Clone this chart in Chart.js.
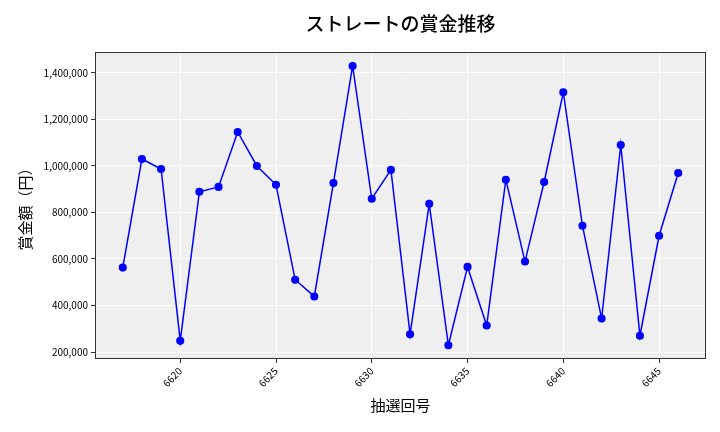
<!DOCTYPE html>
<html>
<head>
    <meta charset="UTF-8">
    <title>ストレートの賞金推移</title>
    <script src="https://cdn.jsdelivr.net/npm/chart.js"></script>
    <style>
        body { margin: 0; background: #fff; }
        #wrap { width: 720px; height: 432px; }
    </style>
</head>
<body>
    <div id="wrap"><canvas id="myChart" width="720" height="432"></canvas></div>

    <script>
        // 抽選回号
        const rounds = [6617, 6618, 6619, 6620, 6621, 6622, 6623, 6624, 6625, 6626,
                        6627, 6628, 6629, 6630, 6631, 6632, 6633, 6634, 6635, 6636,
                        6637, 6638, 6639, 6640, 6641, 6642, 6643, 6644, 6645, 6646];
        // 賞金額（円）
        const prizes = [563000, 1030000, 987000, 248000, 889000, 910000, 1146000, 1000000, 919000, 511000,
                        439000, 927000, 1430000, 859000, 983000, 276000, 837000, 229000, 566000, 314000,
                        941000, 589000, 931000, 1317000, 743000, 344000, 1090000, 270000, 700000, 970000];
        const xTicks = [6620, 6625, 6630, 6635, 6640, 6645];
        const yTicks = [200000, 400000, 600000, 800000, 1000000, 1200000, 1400000];
        const chartTitle = 'ストレートの賞金推移';

        const font = "'Noto Sans CJK JP', 'Noto Sans', sans-serif";

        // plot background, frame and title centred over the plot area
        const plotBg = {
            id: 'plotBg',
            beforeDraw(chart) {
                const { ctx, chartArea: a } = chart;
                ctx.save();
                ctx.fillStyle = '#efefef';
                ctx.fillRect(a.left, a.top, a.right - a.left, a.bottom - a.top);
                ctx.restore();
            },
            afterDatasetsDraw(chart) {
                const { ctx, chartArea: a } = chart;
                ctx.save();
                ctx.strokeStyle = '#333';
                ctx.lineWidth = 1;
                ctx.strokeRect(a.left + 0.5, a.top + 0.5, a.right - a.left - 1, a.bottom - a.top - 1);
                ctx.fillStyle = '#000';
                ctx.font = '500 19px ' + font;
                ctx.textAlign = 'center';
                ctx.textBaseline = 'middle';
                ctx.fillText(chartTitle, (a.left + a.right) / 2, 24);
                ctx.restore();
            }
        };

        const ctx = document.getElementById('myChart').getContext('2d');
        new Chart(ctx, {
            type: 'line',
            data: {
                datasets: [{
                    data: rounds.map((r, i) => ({ x: r, y: prizes[i] })),
                    borderColor: '#0000ff',
                    backgroundColor: '#0000ff',
                    borderWidth: 1.5,
                    pointRadius: 3.3,
                    pointHoverRadius: 3.3,
                    tension: 0
                }]
            },
            options: {
                responsive: false,
                animation: false,
                layout: { padding: { left: 12, right: 14, top: 52, bottom: 14 } },
                plugins: {
                    legend: { display: false },
                    tooltip: { enabled: false },
                    title: { display: false }
                },
                scales: {
                    x: {
                        type: 'linear',
                        min: 6615.55,
                        max: 6647.45,
                        afterBuildTicks(axis) { axis.ticks = xTicks.map(v => ({ value: v })); },
                        afterFit(axis) { axis.height = 59; },
                        grid: { color: '#fff', lineWidth: 1, tickColor: '#333', tickLength: 4 },
                        border: { display: false },
                        ticks: {
                            color: '#000',
                            font: { family: font, size: 10 },
                            maxRotation: 45,
                            minRotation: 45,
                            padding: 2,
                            callback: v => String(v)
                        },
                        title: {
                            display: true,
                            text: '抽選回号',
                            color: '#000',
                            font: { family: font, size: 15 },
                            padding: { top: 4 }
                        }
                    },
                    y: {
                        min: 170000,
                        max: 1490000,
                        afterBuildTicks(axis) { axis.ticks = yTicks.map(v => ({ value: v })); },
                        afterFit(axis) { axis.width = 83; },
                        grid: { color: '#fff', lineWidth: 1, tickColor: '#333', tickLength: 4 },
                        border: { display: false },
                        ticks: {
                            color: '#000',
                            font: { family: font, size: 10 },
                            padding: 3,
                            callback: v => v.toLocaleString('en-US')
                        },
                        title: {
                            display: true,
                            text: '賞金額（円）',
                            color: '#000',
                            font: { family: font, size: 15 },
                            padding: { bottom: 4 }
                        }
                    }
                }
            },
            plugins: [plotBg]
        });
    </script>
</body>
</html>
